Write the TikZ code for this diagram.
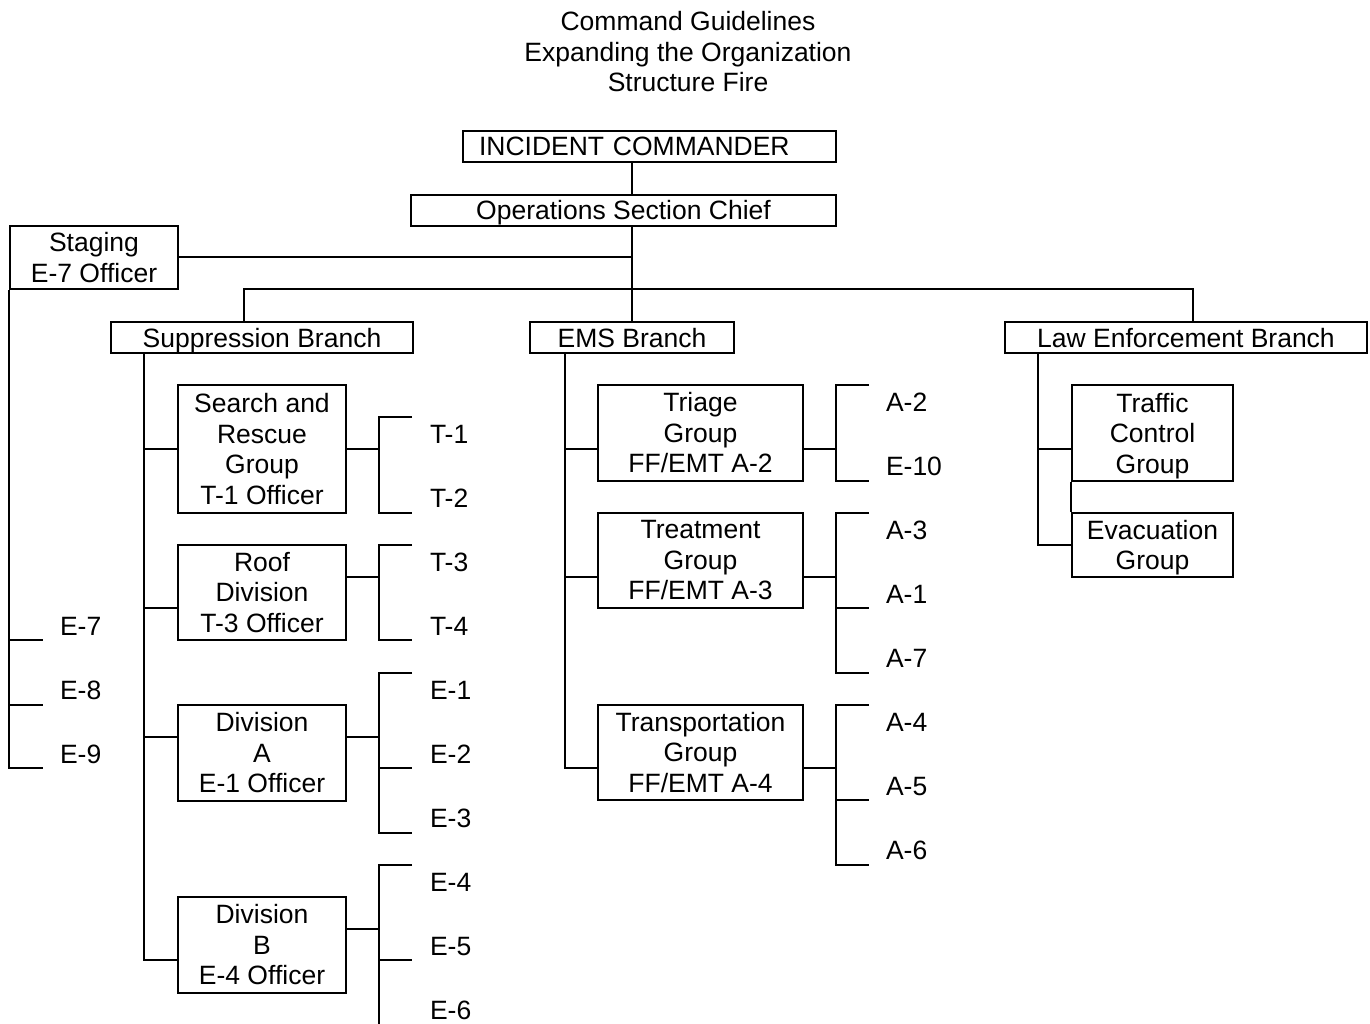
\documentclass[tikz,border=0pt]{standalone}
\usepackage{fontspec}
\setmainfont{Liberation Sans}
\begin{document}
\begin{tikzpicture}[x=1pt,y=-1pt,line width=2pt,
  every node/.style={font=\fontsize{26.5}{30.5}\selectfont,inner sep=0pt},
  orgbox/.style={draw,align=center},
  oneline/.style={text height=19pt,text depth=0pt},
  leaf/.style={anchor=west,text height=19pt,text depth=0pt}]
\useasboundingbox (0,0) rectangle (1370,1024);

% title
\node[align=center] (title) at (688,52) {Command Guidelines\\Expanding the Organization\\Structure Fire};

% command and general staff
\node[orgbox,oneline,align=left,text width=341pt,inner xsep=16pt,minimum height=31pt] (ic) at (649.5,146.5) {INCIDENT COMMANDER};
\node[orgbox,oneline,minimum width=425pt,minimum height=31pt] (ops) at (623.5,210.5) {Operations Section Chief};
\node[orgbox,minimum width=168pt,minimum height=63pt] (stg) at (94,257.5) {Staging\\E-7 Officer};

% branches
\node[orgbox,oneline,minimum width=302pt,minimum height=31pt] (sup) at (262,337.5) {Suppression Branch};
\node[orgbox,oneline,minimum width=204pt,minimum height=31pt] (ems) at (632,337.5) {EMS Branch};
\node[orgbox,oneline,minimum width=362pt,minimum height=31pt] (le) at (1186,337.5) {Law Enforcement Branch};

% suppression groups and divisions
\node[orgbox,minimum width=168pt,minimum height=128pt] (sar) at (262,449) {Search and\\Rescue\\Group\\T-1 Officer};
\node[orgbox,minimum width=168pt,minimum height=95pt] (roof) at (262,592.5) {Roof\\Division\\T-3 Officer};
\node[orgbox,minimum width=168pt,minimum height=96pt] (diva) at (262,753) {Division\\A\\E-1 Officer};
\node[orgbox,minimum width=168pt,minimum height=96pt] (divb) at (262,945) {Division\\B\\E-4 Officer};

% EMS groups
\node[orgbox,minimum width=205pt,minimum height=96pt] (tri) at (700.5,433) {Triage\\Group\\FF/EMT A-2};
\node[orgbox,minimum width=205pt,minimum height=95pt] (trt) at (700.5,560.5) {Treatment\\Group\\FF/EMT A-3};
\node[orgbox,minimum width=205pt,minimum height=95pt] (trn) at (700.5,752.5) {Transportation\\Group\\FF/EMT A-4};

% law enforcement groups
\node[orgbox,text depth=0pt,minimum width=161pt,minimum height=96pt] (traf) at (1152.5,433) {Traffic\\Control\\Group};
\node[orgbox,text depth=0pt,minimum width=161pt,minimum height=64pt] (evac) at (1152.5,545) {Evacuation\\Group};

% unit labels
\node[leaf] (e7) at (59,626) {E-7};
\node[leaf] (e8) at (59,690) {E-8};
\node[leaf] (e9) at (59,754) {E-9};
\node[leaf] (t1) at (429,434) {T-1};
\node[leaf] (t2) at (429,498) {T-2};
\node[leaf] (t3) at (429,562) {T-3};
\node[leaf] (t4) at (429,626) {T-4};
\node[leaf] (e1) at (429,690) {E-1};
\node[leaf] (e2) at (429,754) {E-2};
\node[leaf] (e3) at (429,818) {E-3};
\node[leaf] (e4) at (429,882) {E-4};
\node[leaf] (e5) at (429,946) {E-5};
\node[leaf] (e6) at (429,1010) {E-6};
\node[leaf] (a2) at (885,402) {A-2};
\node[leaf] (e10) at (885,466) {E-10};
\node[leaf] (a3) at (885,530) {A-3};
\node[leaf] (a1) at (885,594) {A-1};
\node[leaf] (a7) at (885,658) {A-7};
\node[leaf] (a4) at (885,722) {A-4};
\node[leaf] (a5) at (885,786) {A-5};
\node[leaf] (a6) at (885,850) {A-6};

% trunk lines
\coordinate (tk) at (632,289);
\coordinate (bs) at (244,289);
\coordinate (bl) at (1193,289);
\draw (ic.south -| tk) -- (ops.north -| tk);
\draw (ops.south -| tk) -- (tk);
\draw (stg.east) -- (stg.east -| tk);
\draw (sup.north -| bs) |- (bl) -- (le.north -| bl);
\draw (ems.north) -- (ems.north |- tk);

% staging units
\coordinate (s7) at (43,640);
\coordinate (s8) at (43,705);
\coordinate (s9) at (43,768);
\draw (stg.south west) |- (s9);
\draw (stg.west |- s7) -- (s7);
\draw (stg.west |- s8) -- (s8);

% suppression branch
\coordinate (st) at (144,960);
\draw (sup.south -| st) |- (divb.west |- st);
\draw (st |- sar.west) -- (sar.west);
\draw (st |- 0,608) -- (roof.west |- 0,608);
\draw (st |- 0,737) -- (diva.west |- 0,737);

\coordinate (k1) at (412,417);
\coordinate (k2) at (412,513);
\coordinate (k3) at (412,545);
\coordinate (k4) at (412,640);
\coordinate (k5) at (412,673);
\coordinate (k6) at (412,768);
\coordinate (k7) at (412,833);
\coordinate (k8) at (412,865);
\coordinate (k9) at (412,960);
\coordinate (kb) at (379,1026);
\draw (sar.east) -- (sar.east -| kb);
\draw (k1) -- (k1 -| kb) |- (k2);
\draw (roof.east |- 0,577) -- (kb |- 0,577);
\draw (k3) -- (k3 -| kb) |- (k4);
\draw (diva.east |- 0,737) -- (kb |- 0,737);
\draw (k5) -- (k5 -| kb) |- (k7);
\draw (k6 -| kb) -- (k6);
\draw (divb.east |- 0,929) -- (kb |- 0,929);
\draw (k8) -- (k8 -| kb) -- (kb);
\draw (k9 -| kb) -- (k9);

% EMS branch
\coordinate (et) at (565,768);
\draw (ems.south -| et) |- (trn.west |- et);
\draw (et |- 0,449) -- (tri.west |- 0,449);
\draw (et |- 0,577) -- (trt.west |- 0,577);

\coordinate (m1) at (869,385);
\coordinate (m2) at (869,481);
\coordinate (m3) at (869,513);
\coordinate (m4) at (869,608);
\coordinate (m5) at (869,673);
\coordinate (m6) at (869,705);
\coordinate (m7) at (869,800);
\coordinate (m8) at (869,865);
\coordinate (mb) at (836,0);
\draw (tri.east |- 0,449) -- (mb |- 0,449);
\draw (m1) -- (m1 -| mb) |- (m2);
\draw (trt.east |- 0,577) -- (mb |- 0,577);
\draw (m3) -- (m3 -| mb) |- (m5);
\draw (m4 -| mb) -- (m4);
\draw (trn.east |- 0,768) -- (mb |- 0,768);
\draw (m6) -- (m6 -| mb) |- (m8);
\draw (m7 -| mb) -- (m7);

% law enforcement branch
\coordinate (lt) at (1038,449);
\draw (le.south -| lt) |- (evac.west);
\draw (lt) -- (traf.west |- lt);
\draw (traf.south west) -- (evac.north west);
\end{tikzpicture}
\end{document}
